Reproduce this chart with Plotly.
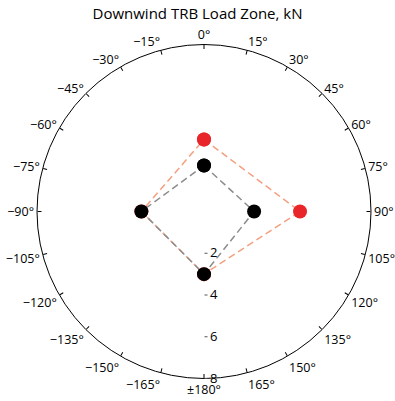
import plotly.graph_objects as go

# Data
theta_deg = [0, 90, 180, -90, 0]
black_r = [2.2, 2.4, 3.0, 3.0, 2.2]
red_r = [3.45, 4.6, 3.0, 3.0, 3.45]

ang_tickvals = list(range(0, 360, 15))
ang_ticktext = []
for v in ang_tickvals:
    if v == 180:
        ang_ticktext.append("±180°")
    elif v > 180:
        ang_ticktext.append("−%d°" % (360 - v))
    else:
        ang_ticktext.append("%d°" % v)
rad_tickvals = [2, 4, 6, 8]

fig = go.Figure()
fig.add_trace(go.Scatterpolar(
    r=red_r, theta=theta_deg, mode="lines+markers",
    line=dict(color="#f4a080", dash="7px,4px", width=1.5),
    marker=dict(color="#e8262a", size=14),
    showlegend=False))
fig.add_trace(go.Scatterpolar(
    r=black_r, theta=theta_deg, mode="lines+markers",
    line=dict(color="#8c8c8c", dash="7px,4px", width=1.5),
    marker=dict(color="black", size=14),
    showlegend=False))

fig.update_layout(
    width=395, height=401,
    margin=dict(l=37, r=24, t=44, b=22),
    paper_bgcolor="white",
    font=dict(family="Open Sans", size=12, color="black"),
    title=dict(text="Downwind TRB Load Zone, kN", x=0.5, xanchor="center",
               y=0.98, yanchor="top", font=dict(size=15, color="black")),
    polar=dict(
        bgcolor="white",
        angularaxis=dict(direction="clockwise", rotation=90,
                         tickmode="array", tickvals=ang_tickvals, ticktext=ang_ticktext,
                         showgrid=False, showline=True, linecolor="black", linewidth=1,
                         ticks="inside", ticklen=4, tickcolor="black",
                         tickfont=dict(size=12.5)),
        radialaxis=dict(range=[0, 8], angle=-90, tickangle=-90, side="counterclockwise",
                        tickmode="array", tickvals=rad_tickvals,
                        showgrid=False, showline=False, ticks="outside", ticklen=3,
                        tickcolor="#555", tickfont=dict(size=13))
    )
)
fig.write_html("out.html")
